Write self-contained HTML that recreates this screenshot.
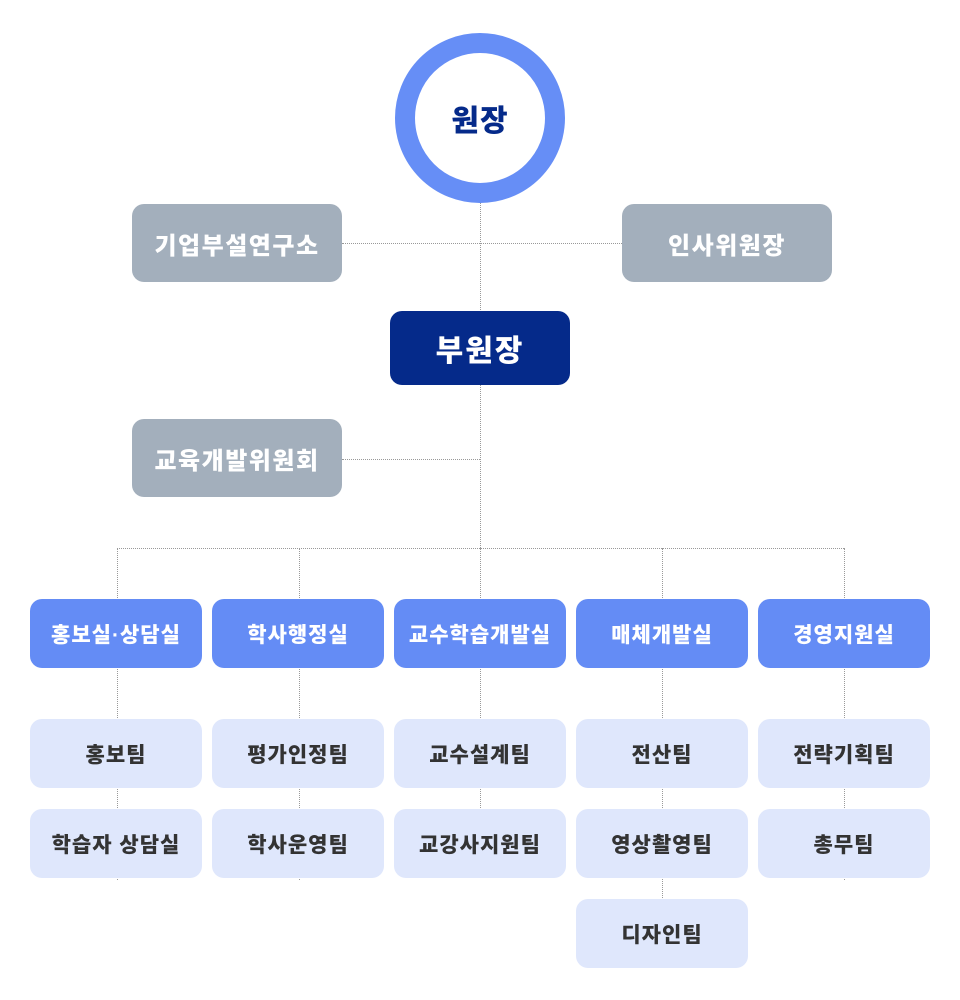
<!DOCTYPE html>
<html><head><meta charset="utf-8"><style>
body{margin:0;width:960px;height:1000px;background:#fff;position:relative;overflow:hidden;font-family:"Liberation Sans","Noto Sans CJK KR","NanumGothic",sans-serif;font-weight:900}
.b{position:absolute;display:flex;align-items:center;justify-content:center;border-radius:12px}
.g{background:#a3afbc;color:#fff;font-size:24px;letter-spacing:1.5px;width:210px;height:78px}
.d{background:#dfe7fc;color:#333;font-size:21px;letter-spacing:1px;width:172px;height:69px}
.m{background:#648cf5;color:#fff;font-size:21px;letter-spacing:1px;width:172px;height:69px}
.h{position:absolute;border-top:1px dotted #999;height:0}
.v{position:absolute;border-left:1px dotted #999;width:0}
</style></head><body>
<div class="v" style="left:480px;top:200px;height:350px"></div>
<div class="h" style="left:342px;top:243px;width:280px"></div>
<div class="h" style="left:342px;top:459px;width:138px"></div>
<div class="h" style="left:117px;top:548px;width:727px"></div>
<div class="v" style="left:117px;top:548px;height:332px"></div>
<div class="v" style="left:299px;top:548px;height:332px"></div>
<div class="v" style="left:480px;top:548px;height:262px"></div>
<div class="v" style="left:662px;top:548px;height:352px"></div>
<div class="v" style="left:844px;top:548px;height:332px"></div>
<div style="position:absolute;left:395px;top:33px;width:130px;height:130px;border:20px solid #668ef6;border-radius:50%;background:#fff;display:flex;align-items:center;justify-content:center;color:#052a8a;font-size:30px;letter-spacing:1px">원장</div>
<div class="b g" style="left:132px;top:204px">기업부설연구소</div>
<div class="b g" style="left:622px;top:204px">인사위원장</div>
<div class="b" style="left:390px;top:311px;width:180px;height:74px;background:#052a8a;color:#fff;font-size:30px;letter-spacing:2px">부원장</div>
<div class="b g" style="left:132px;top:419px">교육개발위원회</div>
<div class="b m" style="left:30px;top:599px">홍보실·상담실</div>
<div class="b m" style="left:212px;top:599px">학사행정실</div>
<div class="b m" style="left:394px;top:599px">교수학습개발실</div>
<div class="b m" style="left:576px;top:599px">매체개발실</div>
<div class="b m" style="left:758px;top:599px">경영지원실</div>
<div class="b d" style="left:30px;top:719px">홍보팀</div>
<div class="b d" style="left:212px;top:719px">평가인정팀</div>
<div class="b d" style="left:394px;top:719px">교수설계팀</div>
<div class="b d" style="left:576px;top:719px">전산팀</div>
<div class="b d" style="left:758px;top:719px">전략기획팀</div>
<div class="b d" style="left:30px;top:809px">학습자 상담실</div>
<div class="b d" style="left:212px;top:809px">학사운영팀</div>
<div class="b d" style="left:394px;top:809px">교강사지원팀</div>
<div class="b d" style="left:576px;top:809px">영상촬영팀</div>
<div class="b d" style="left:758px;top:809px">총무팀</div>
<div class="b d" style="left:576px;top:899px">디자인팀</div>
</body></html>
